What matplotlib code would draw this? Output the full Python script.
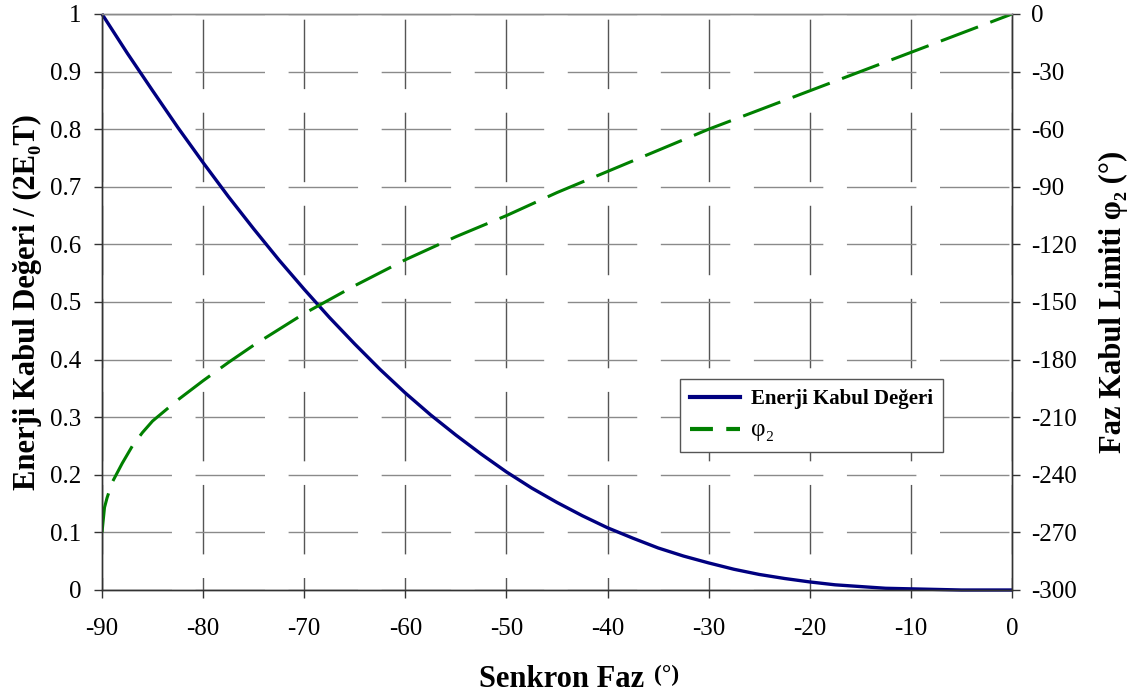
import matplotlib
matplotlib.use('Agg')
import matplotlib.pyplot as plt
from matplotlib.lines import Line2D

# ----------------------------------------------------------------
# Data
# ----------------------------------------------------------------
# energy acceptance (normalised), every 2.5 deg of synchronous phase
phase_e = [-90, -87.5, -85, -82.5, -80, -77.5, -75, -72.5, -70, -67.5,
           -65, -62.5, -60, -57.5, -55, -52.5, -50, -47.5, -45, -42.5,
           -40, -37.5, -35, -32.5, -30, -27.5, -25, -22.5, -20, -17.5,
           -15, -12.5, -10, -7.5, -5, -2.5, 0]
energy = [1.000, 0.932, 0.867, 0.803, 0.742, 0.683, 0.627, 0.573, 0.522, 0.473,
          0.427, 0.383, 0.342, 0.304, 0.269, 0.236, 0.205, 0.177, 0.152, 0.129,
          0.108, 0.090, 0.073, 0.059, 0.047, 0.036, 0.027, 0.020, 0.014, 0.009,
          0.006, 0.003, 0.002, 0.001, 0.000, 0.000, 0.000]

# phase acceptance limit phi_2 (deg)
phase_p = [-90, -89.75, -89.5, -89, -88, -87, -86, -85, -82.5, -80, -77.5, -75,
           -70, -65, -60, -55, -50, -45, -40, -35, -30, -25, -20, -15, -10, -5, 0]
phi2 = [-270, -257, -252, -244, -234, -225, -218, -212, -201, -191, -181.5, -172.5,
        -156, -141.5, -128, -116, -105, -93, -82, -71, -60, -50, -40, -30, -20, -10, 0]

x_ticks = list(range(-90, 1, 10))
y_ticks = [round(0.1 * i, 1) for i in range(11)]
y2_ticks = list(range(-300, 1, 30))

SERIF = ['Liberation Serif', 'DejaVu Serif']
plt.rcParams['font.family'] = SERIF

# ----------------------------------------------------------------
# Figure
# ----------------------------------------------------------------
fig = plt.figure(figsize=(11.31, 6.98), dpi=100)
ax = fig.add_axes([102 / 1131, 1 - 590 / 698, 910 / 1131, 576 / 698])
ax2 = ax.twinx()

ax.set_xlim(-90, 0)
ax.set_ylim(0, 1)
ax2.set_ylim(-300, 0)
ax.set_xticks(x_ticks)
ax.set_yticks(y_ticks)
ax2.set_yticks(y2_ticks)
ax.set_xticklabels([str(t) for t in x_ticks])
ax.set_yticklabels(['0' if v == 0 else ('1' if v == 1 else f'{v:.1f}') for v in y_ticks])
ax2.set_yticklabels([str(t) for t in y2_ticks])

# broken grid lines like the original
ax.yaxis.grid(True, color='#8a8a8a', linewidth=1.0, linestyle=(0, (50, 17)))
ax.xaxis.grid(True, color='#555555', linewidth=1.0, linestyle=(41, (50, 17)))
ax.set_axisbelow(True)

ax.tick_params(axis='x', direction='out', length=6, width=1, colors='#333333',
               labelcolor='black', labelsize=18, pad=14)
ax.tick_params(axis='y', direction='out', length=6, width=1, colors='#333333',
               labelcolor='black', labelsize=18, pad=9)
ax2.tick_params(axis='y', direction='out', length=6, width=1, colors='#333333',
                labelcolor='black', labelsize=18, pad=8)

for a in (ax, ax2):
    for s in ('left', 'right', 'bottom'):
        a.spines[s].set_color('#333333')
        a.spines[s].set_linewidth(1.0)
    a.spines['top'].set_color('#8a8a8a')
    a.spines['top'].set_linewidth(1.0)

ax.plot(phase_e, energy, color='#000080', linewidth=2.4,
        solid_capstyle='butt', clip_on=False)
ax2.plot(phase_p, phi2, color='#008000', linewidth=2.2,
         linestyle=(0, (13, 4.3)))

# legend proxies (shorter dashes in the key, as in the original)
h1 = Line2D([], [], color='#000080', linewidth=3.0, label='Enerji Kabul Değeri')
h2 = Line2D([], [], color='#008000', linewidth=3.0, linestyle=(0, (5.5, 3.2)), label='φ₂')
leg = ax2.legend(handles=[h1, h2], loc='lower left',
                 bbox_to_anchor=(0.635, 0.24), borderaxespad=0,
                 fancybox=False, framealpha=1, edgecolor='#555555',
                 handlelength=2.4, handletextpad=0.5, borderpad=0.5,
                 labelspacing=0.5, prop={'family': SERIF, 'size': 15, 'weight': 'bold'})
leg.get_frame().set_linewidth(1.0)
leg.get_texts()[1].set_fontweight('normal')
leg.get_texts()[1].set_fontsize(18)

# axis titles
ax.set_ylabel('Enerji Kabul Değeri / (2E₀T)', fontsize=22, fontweight='bold',
              family=SERIF, labelpad=6)
ax2.set_ylabel('Faz Kabul Limiti φ₂ (°)', fontsize=22, fontweight='bold',
               family=SERIF, labelpad=16)
fig.text(479 / 1131, 1 - 687 / 698, 'Senkron Faz', fontsize=22, fontweight='bold',
         family=SERIF, ha='left', va='baseline')
fig.text(654 / 1131, 1 - 681 / 698, '(°)', fontsize=17, fontweight='bold',
         family=SERIF, ha='left', va='baseline')

fig.savefig('out.png', dpi=100, facecolor='white')
